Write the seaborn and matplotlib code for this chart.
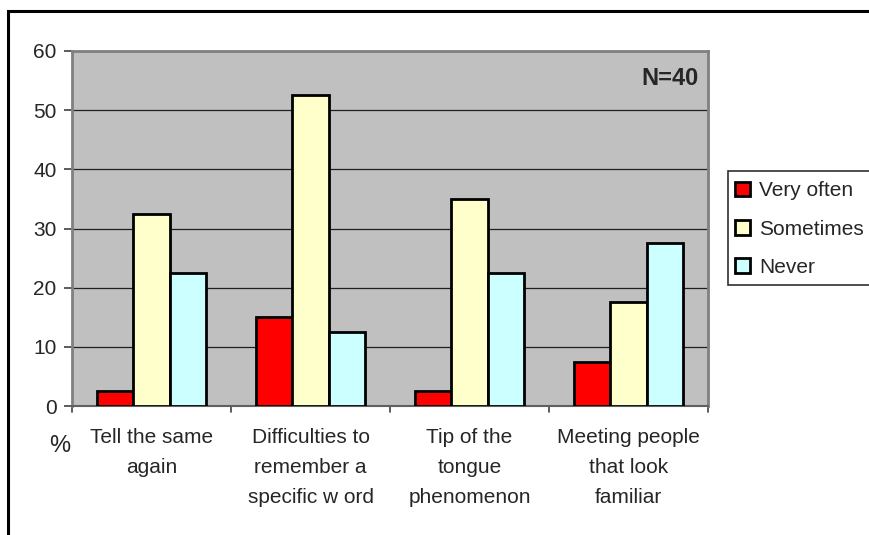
import matplotlib
matplotlib.use("Agg")
import matplotlib.pyplot as plt
from matplotlib.patches import Rectangle
import seaborn as sns
import pandas as pd

categories = [
    "Tell the same\nagain",
    "Difficulties to\nremember a\nspecific w ord",
    "Tip of the\ntongue\nphenomenon",
    "Meeting people\nthat look\nfamiliar",
]
series_names = ["Very often", "Sometimes", "Never"]
very_often = [2.5, 15.0, 2.5, 7.5]
sometimes = [32.5, 52.5, 35.0, 17.5]
never = [22.5, 12.5, 22.5, 27.5]
yticks = [0, 10, 20, 30, 40, 50, 60]
colors = ["#FF0000", "#FFFFCC", "#CCFFFF"]

rows = []
for name, vals in zip(series_names, [very_often, sometimes, never]):
    for cat, v in zip(categories, vals):
        rows.append({"category": cat, "series": name, "value": v})
df = pd.DataFrame(rows)

sns.set_theme(style="white")
plt.rcParams["font.family"] = ["Liberation Sans", "DejaVu Sans"]

W, H = 869, 535
fig = plt.figure(figsize=(W / 100, H / 100), dpi=100)
fig.patch.set_facecolor("white")

# outer chart frame
fig.patches.append(Rectangle((8 / W, -0.1), 1.2, (H - 11) / H + 0.1,
                             transform=fig.transFigure, fill=False,
                             edgecolor="black", linewidth=2.2))

left, right, top, bottom = 72, 708, 51, 406
ax = fig.add_axes([left / W, 1 - bottom / H, (right - left) / W, (bottom - top) / H])
ax.set_facecolor("#C0C0C0")

sns.barplot(data=df, x="category", y="value", hue="series", order=categories,
            hue_order=series_names, palette=colors, width=0.686, gap=0,
            edgecolor="black", linewidth=2.0, saturation=1, ax=ax, zorder=3,
            errorbar=None)

ax.set_ylim(0, 60)
ax.set_xlim(-0.5, len(categories) - 0.5)
ax.set_yticks(yticks)
ax.set_yticklabels([str(t) for t in yticks], fontsize=15)
for t in yticks[1:-1]:
    ax.axhline(t, color="#202020", linewidth=0.9, zorder=1)

ax.set_xticks([i for i in range(len(categories))])
ax.set_xticklabels(categories, fontsize=15, linespacing=1.73, va="top")
ax.tick_params(axis="x", length=0, pad=16)
ax.tick_params(axis="y", length=6, width=1.2, color="#404040", direction="out",
               left=True, pad=5)
for b in [-0.5, 0.5, 1.5, 2.5, 3.5]:
    ax.plot([b, b], [0, -1.0], color="#404040", linewidth=1.2, clip_on=False,
            transform=ax.transData)

for side in ["top", "right", "left"]:
    ax.spines[side].set_color("#808080")
    ax.spines[side].set_linewidth(2)
ax.spines["bottom"].set_color("#606060")
ax.spines["bottom"].set_linewidth(1.5)
ax.set_xlabel("")
ax.set_ylabel("")

ax.text(0.985, 0.955, "N=40", transform=ax.transAxes, ha="right", va="top",
        fontsize=17, fontweight="bold")
fig.text(60 / W, 1 - 446 / H, "%", ha="center", va="center", fontsize=17)

# legend box runs off the right edge of the chart
fig.patches.append(Rectangle((728 / W, 1 - 285 / H), 0.2, (285 - 171) / H,
                             transform=fig.transFigure, facecolor="white",
                             edgecolor="#303030", linewidth=1.2, zorder=0))
handles, labels = ax.get_legend_handles_labels()
leg = fig.legend(handles, labels, loc="upper left",
                 bbox_to_anchor=(731 / W, 1 - 177 / H), frameon=False,
                 fontsize=15, handlelength=0.7, handleheight=0.7,
                 handletextpad=0.45, labelspacing=0.93, borderpad=0.2,
                 borderaxespad=0)
if ax.get_legend() is not None:
    ax.get_legend().remove()

fig.savefig("out.png", dpi=100, facecolor="white")
